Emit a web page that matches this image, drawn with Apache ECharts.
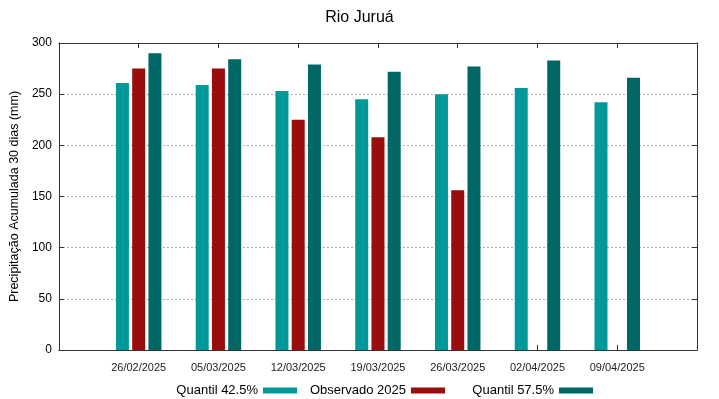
<!DOCTYPE html>
<html>
<head>
<meta charset="utf-8">
<script src="https://cdn.jsdelivr.net/npm/echarts@6/dist/echarts.min.js"></script>
<style>
  html, body { margin: 0; padding: 0; background: #fff; }
  #chart { width: 719px; height: 399px; }
</style>
</head>
<body>
<div id="chart"></div>
<script>
var dates = ['26/02/2025', '05/03/2025', '12/03/2025', '19/03/2025', '26/03/2025', '02/04/2025', '09/04/2025'];
var quantil425 = [261, 259, 253, 245, 250, 256, 242];
var observado = [275, 275, 225, 208, 156, null, null];
var quantil575 = [290, 284, 279, 272, 277, 283, 266];
var names = ['Quantil 42.5%', 'Observado 2025', 'Quantil 57.5%'];

// gnuplot-style xrange: one empty slot on each side
function pad(arr){
    return [null].concat(arr, [null]);
}
var cats = [''].concat(dates, [' ']);

var font = 'Liberation Sans, Arial, sans-serif';
var tickShow = function (i) { return i > 0 && i < cats.length - 1; };
var axisCol = '#333';

// gnuplot key: text right-aligned before its sample, fixed columns
function keyItem(name, right){
    return {
        data: [name],
        top: 379,
        right: right,
        align: 'right',
        icon: 'rect',
        itemWidth: 34,
        itemHeight: 6,
        textStyle: { fontFamily: font, fontSize: 13, color: '#000' }
    };
}

var option = {
    backgroundColor: '#ffffff',
    animation: false,
    textStyle: { fontFamily: font },
    title: {
        text: 'Rio Juruá',
        left: 'center',
        top: 5,
        textStyle: { fontFamily: font, fontSize: 16, fontWeight: 'normal', color: '#000' }
    },
    legend: [keyItem(names[0], 417), keyItem(names[1], 269), keyItem(names[2], 121)],
    grid: { left: 58, right: 22, top: 43, bottom: 49 },
    xAxis: [{
        type: 'category',
        data: cats,
        boundaryGap: false,
        position: 'bottom',
        axisLine: { onZero: false, lineStyle: { color: axisCol, width: 1 } },
        axisTick: { inside: true, length: 5, interval: tickShow, lineStyle: { color: axisCol } },
        axisLabel: { interval: 0, fontSize: 11, color: '#222', margin: 12, fontFamily: font },
        splitLine: { show: false }
    }, {
        type: 'category',
        data: cats,
        boundaryGap: false,
        position: 'top',
        axisLine: { onZero: false, lineStyle: { color: axisCol, width: 1 } },
        axisTick: { inside: true, length: 5, interval: tickShow, lineStyle: { color: axisCol } },
        axisLabel: { show: false },
        splitLine: { show: false }
    }],
    yAxis: [{
        type: 'value',
        min: 0,
        max: 300,
        interval: 50,
        position: 'left',
        name: 'Precipitação Acumulada 30 dias (mm)',
        nameLocation: 'middle',
        nameGap: 35,
        nameTextStyle: { fontFamily: font, fontSize: 12.5, color: '#000' },
        axisLine: { show: true, onZero: false, lineStyle: { color: axisCol, width: 1 } },
        axisTick: { show: true, inside: true, length: 5, lineStyle: { color: axisCol } },
        axisLabel: { fontSize: 12, color: '#000', margin: 7, fontFamily: font },
        splitLine: { show: true, lineStyle: { color: '#aaa', type: [2, 2], width: 1 } }
    }, {
        type: 'value',
        min: 0,
        max: 300,
        interval: 50,
        position: 'right',
        axisLine: { show: true, onZero: false, lineStyle: { color: axisCol, width: 1 } },
        axisTick: { show: true, inside: true, length: 5, lineStyle: { color: axisCol } },
        axisLabel: { show: false },
        splitLine: { show: false }
    }],
    series: [{
        name: names[0],
        type: 'bar',
        data: pad(quantil425),
        barWidth: 13,
        barGap: '25%',
        itemStyle: { color: '#009999' }
    }, {
        name: names[1],
        type: 'bar',
        data: pad(observado),
        barWidth: 13,
        barGap: '25%',
        itemStyle: { color: '#990d0d' }
    }, {
        name: names[2],
        type: 'bar',
        data: pad(quantil575),
        barWidth: 13,
        barGap: '25%',
        itemStyle: { color: '#006766' }
    }]
};

var myChart = echarts.init(document.getElementById('chart'));
myChart.setOption(option);
</script>
</body>
</html>
